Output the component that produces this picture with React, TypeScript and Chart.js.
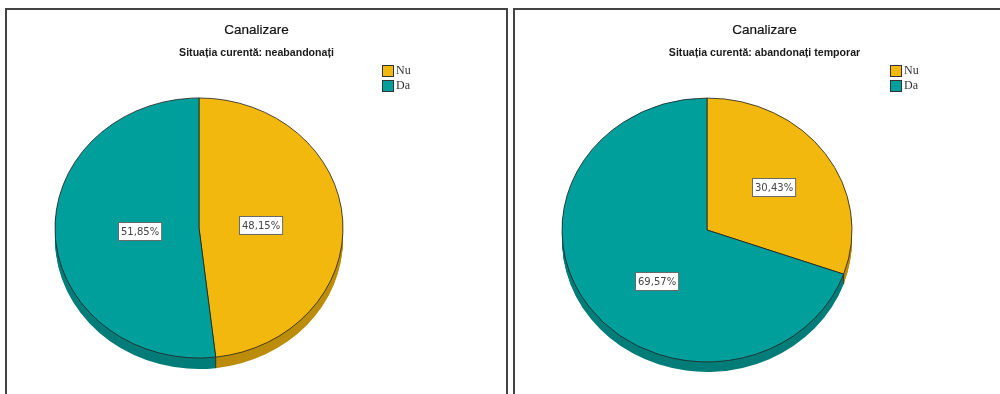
import React, { useEffect, useRef } from "react";
import { Chart, registerables } from "chart.js";

Chart.register(...registerables);

// ---- data ----
const categories = ["Nu", "Da"];
const neabandonatiValues = [48.15, 51.85];
const abandonatiTemporarValues = [30.43, 69.57];
const chartTitle = "Canalizare";
const subtitles = [
  "Situația curentă: neabandonați",
  "Situația curentă: abandonați temporar",
];

// ---- styles ----
const sliceColors = ["#F2B80D", "#019F9B"];
const rimColors = ["#BC8D0A", "#007D79"];

const fmt = (v: number) => v.toFixed(2).replace(".", ",") + "%";

const pie3d = {
  id: "pie3d",
  beforeDatasetsDraw(chart: any, _args: any, opts: any) {
    const meta = chart.getDatasetMeta(0);
    if (!meta.data.length) return;
    const cx = meta.data[0].x;
    const cy = meta.data[0].y;
    const k = opts.ratio;
    const depth = opts.depth;
    const ctx = chart.ctx;
    ctx.save();
    ctx.translate(cx, cy);
    ctx.scale(1, k);
    ctx.translate(-cx, -cy);
    for (let d = depth; d >= 1; d--) {
      meta.data.forEach((el: any, i: number) => {
        ctx.beginPath();
        ctx.moveTo(cx, cy + d / k);
        ctx.arc(cx, cy + d / k, el.outerRadius, el.startAngle, el.endAngle);
        ctx.closePath();
        ctx.fillStyle = rimColors[i % rimColors.length];
        ctx.fill();
      });
    }
    // boundaries continuing through the rim
    ctx.strokeStyle = "rgba(30,30,30,0.8)";
    ctx.lineWidth = 1;
    meta.data.forEach((el: any) => {
      const a = el.endAngle;
      if (Math.sin(a) > 0.05) {
        const x = cx + Math.cos(a) * el.outerRadius;
        const y = cy + Math.sin(a) * el.outerRadius;
        ctx.beginPath();
        ctx.moveTo(x, y);
        ctx.lineTo(x, y + depth / k);
        ctx.stroke();
      }
    });
  },
  afterDatasetsDraw(chart: any, _args: any, opts: any) {
    const ctx = chart.ctx;
    ctx.restore();
    const meta = chart.getDatasetMeta(0);
    const data = chart.data.datasets[0].data as number[];
    const k = opts.ratio;
    meta.data.forEach((el: any, i: number) => {
      const [frac, shiftDeg] = opts.labelPos[i];
      const mid = (el.startAngle + el.endAngle) / 2 + (shiftDeg * Math.PI) / 180;
      const r = el.outerRadius * frac;
      const x = el.x + Math.cos(mid) * r;
      const y = el.y + Math.sin(mid) * r * k;
      const text = fmt(data[i]);
      ctx.save();
      ctx.font = "10px 'DejaVu Sans'";
      const w = ctx.measureText(text).width + 5;
      const h = 18;
      const bx = Math.round(x - w / 2) + 0.5;
      const by = Math.round(y - h / 2) + 0.5;
      ctx.fillStyle = "#ffffff";
      ctx.fillRect(bx, by, w, h);
      ctx.strokeStyle = "#6a6a6a";
      ctx.lineWidth = 1;
      ctx.strokeRect(bx, by, w, h);
      ctx.fillStyle = "#454545";
      ctx.textAlign = "center";
      ctx.textBaseline = "middle";
      ctx.fillText(text, bx + w / 2, by + h / 2 + 0.5);
      ctx.restore();
    });
  },
};

type PieProps = {
  values: number[];
  subtitle: string;
  left: number;
  center: [number, number];
  radius: number;
  ratio: number;
  depth: number;
  labelPos: [number, number][];
};

const CW = 499;
const CH = 384;

function PiePanel(p: PieProps) {
  const ref = useRef<HTMLCanvasElement | null>(null);
  useEffect(() => {
    if (!ref.current) return;
    const [cx, cy] = p.center;
    const r = p.radius;
    const chart = new Chart(ref.current, {
      type: "pie",
      data: {
        labels: categories,
        datasets: [
          {
            data: p.values,
            backgroundColor: sliceColors,
            borderColor: "rgba(35,35,35,0.85)",
            borderWidth: 1,
          },
        ],
      },
      options: {
        animation: false,
        responsive: false,
        devicePixelRatio: 1,
        events: [],
        radius: r,
        layout: {
          padding: {
            left: cx - r,
            right: CW - cx - r,
            top: cy - r,
            bottom: CH - cy - r,
          },
        },
        plugins: {
          legend: { display: false },
          tooltip: { enabled: false },
          title: { display: false },
          pie3d: { ratio: p.ratio, depth: p.depth, labelPos: p.labelPos },
        } as any,
      },
      plugins: [pie3d as any],
    });
    return () => chart.destroy();
  }, []);

  return (
    <div
      style={{
        position: "absolute",
        left: p.left,
        top: 8,
        width: 503,
        height: 420,
        boxSizing: "border-box",
        border: "2px solid #444",
        background: "#fff",
      }}
    >
      <canvas
        ref={ref}
        width={CW}
        height={CH}
        style={{ position: "absolute", left: 0, top: 0, width: CW, height: CH }}
      />
      <div
        style={{
          position: "absolute",
          left: 0,
          width: "100%",
          top: 12,
          textAlign: "center",
          font: "13.5px 'Liberation Sans', Arial, sans-serif",
          color: "#111",
          lineHeight: "16px",
          WebkitTextStroke: "0.2px #111",
        }}
      >
        {chartTitle}
      </div>
      <div
        style={{
          position: "absolute",
          left: 0,
          width: "100%",
          top: 36,
          textAlign: "center",
          font: "bold 10.6px 'Liberation Sans', Arial, sans-serif",
          color: "#1a1a1a",
          lineHeight: "13px",
        }}
      >
        {p.subtitle}
      </div>
      <div style={{ position: "absolute", left: 375, top: 53 }}>
        {categories.map((c, i) => (
          <div
            key={c}
            style={{
              display: "flex",
              alignItems: "center",
              height: 15,
              font: "12px 'Liberation Serif', serif",
              color: "#333",
            }}
          >
            <span
              style={{
                display: "inline-block",
                width: 10,
                height: 10,
                border: "1px solid #333",
                background: sliceColors[i],
                marginRight: 2,
              }}
            />
            {c}
          </div>
        ))}
      </div>
    </div>
  );
}

export default function App() {
  return (
    <div
      style={{
        position: "fixed",
        left: 0,
        top: 0,
        width: 1000,
        height: 394,
        overflow: "hidden",
        background: "#fff",
      }}
    >
      <PiePanel
        values={neabandonatiValues}
        subtitle={subtitles[0]}
        left={5}
        center={[192, 218]}
        radius={144}
        ratio={0.903}
        depth={11}
        labelPos={[
          [0.43, 0],
          [0.41, 0],
        ]}
      />
      <PiePanel
        values={abandonatiTemporarValues}
        subtitle={subtitles[1]}
        left={513}
        center={[192, 220]}
        radius={145}
        ratio={0.91}
        depth={10}
        labelPos={[
          [0.566, 0],
          [0.52, -13],
        ]}
      />
    </div>
  );
}
